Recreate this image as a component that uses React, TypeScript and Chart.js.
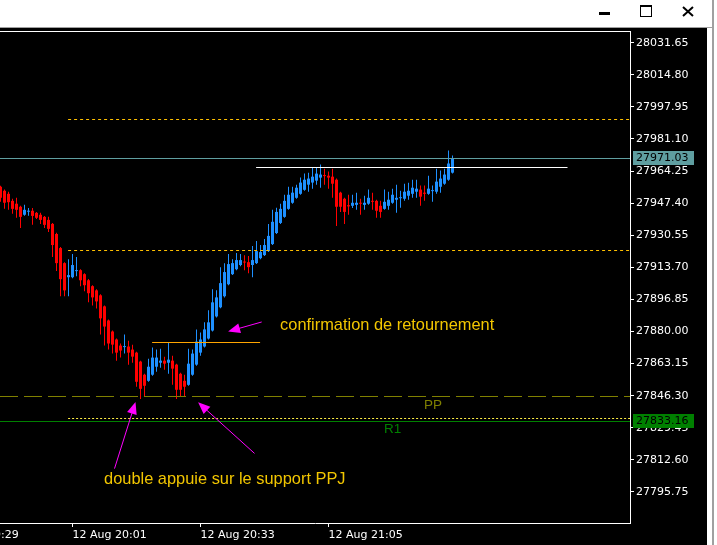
import React, { useEffect, useRef } from "react";
import { Chart, registerables } from "chart.js";

Chart.register(...registerables);

// ---------- DATA (1-minute candles, first one = 12 Aug 19:43) ----------
const opens = [
  27956.0, 27953.9, 27952.3, 27948.6, 27947.1, 27945.5, 27941.3, 27942.9, 27943.4, 27942.3,
  27941.3, 27940.2, 27938.6, 27936.5, 27931.2, 27923.8, 27915.9, 27908.5, 27908.5, 27911.7,
  27912.2, 27910.1, 27906.9, 27903.8, 27901.6, 27899.0, 27893.2, 27885.8, 27880.0, 27875.8,
  27872.6, 27871.8, 27872.1, 27870.5, 27868.9, 27864.2, 27857.3, 27854.1, 27857.3, 27861.5,
  27863.6, 27864.7, 27863.6, 27864.7, 27862.6, 27857.8, 27854.1, 27852.0, 27857.3, 27862.6,
  27868.9, 27872.1, 27876.3, 27880.5, 27887.9, 27892.7, 27898.5, 27904.8, 27910.1, 27912.7,
  27914.9, 27916.7, 27916.4, 27914.9, 27915.9, 27918.5, 27920.1, 27922.2, 27925.9, 27931.7,
  27937.0, 27940.2, 27944.4, 27947.6, 27950.2, 27952.3, 27954.4, 27957.1, 27958.2, 27959.2,
  27960.8, 27962.1, 27961.8, 27961.3, 27959.7, 27952.9, 27949.7, 27946.3, 27946.0, 27946.5,
  27947.6, 27946.5, 27947.1, 27948.6, 27948.6, 27946.0, 27944.4, 27946.0, 27947.6, 27949.2,
  27950.0, 27949.7, 27951.3, 27952.3, 27953.4, 27954.5, 27952.9, 27952.3, 27953.7, 27953.4,
  27956.0, 27957.6, 27959.7, 27963.4,
];
const highs = [
  27956.5, 27954.5, 27953.4, 27949.7, 27950.2, 27946.0, 27946.5, 27944.9, 27944.9, 27942.8,
  27942.3, 27940.7, 27940.2, 27937.0, 27931.8, 27924.4, 27916.4, 27918.0, 27920.7, 27919.1,
  27912.7, 27910.6, 27907.5, 27904.3, 27902.2, 27899.5, 27893.7, 27886.3, 27880.5, 27876.3,
  27873.7, 27878.4, 27875.2, 27873.1, 27869.4, 27864.7, 27857.8, 27865.7, 27871.6, 27870.5,
  27871.0, 27866.8, 27874.2, 27867.3, 27863.1, 27858.4, 27857.3, 27871.0, 27870.5, 27881.1,
  27879.5, 27884.8, 27891.1, 27902.2, 27901.7, 27913.8, 27915.9, 27920.7, 27918.0, 27921.2,
  27920.7, 27920.1, 27919.6, 27924.9, 27927.5, 27925.4, 27928.6, 27936.5, 27943.9, 27945.0,
  27947.1, 27951.8, 27956.0, 27956.0, 27957.1, 27960.8, 27962.9, 27963.4, 27966.1, 27966.1,
  27967.7, 27965.5, 27964.0, 27965.5, 27960.3, 27953.4, 27950.2, 27951.8, 27951.8, 27952.9,
  27949.7, 27951.3, 27954.5, 27952.9, 27949.2, 27948.6, 27954.5, 27953.4, 27955.0, 27957.1,
  27953.9, 27957.6, 27958.1, 27959.7, 27959.7, 27956.6, 27956.6, 27961.8, 27956.6, 27965.5,
  27964.5, 27965.5, 27975.0, 27972.4,
];
const lows = [
  27948.1, 27944.4, 27943.9, 27941.8, 27939.7, 27934.4, 27940.8, 27940.8, 27936.0, 27939.1,
  27936.5, 27934.4, 27932.3, 27919.1, 27911.7, 27898.5, 27898.5, 27898.5, 27908.0, 27909.0,
  27903.8, 27901.1, 27895.3, 27893.7, 27892.1, 27878.4, 27872.6, 27870.5, 27868.4, 27864.7,
  27866.3, 27868.4, 27862.6, 27863.6, 27851.0, 27844.6, 27845.7, 27853.6, 27856.8, 27858.9,
  27861.0, 27859.9, 27857.8, 27852.0, 27844.6, 27845.7, 27845.7, 27851.5, 27856.8, 27862.0,
  27867.3, 27871.6, 27875.8, 27880.0, 27887.4, 27892.2, 27897.9, 27904.3, 27909.6, 27912.2,
  27914.3, 27912.2, 27910.6, 27908.5, 27915.4, 27918.0, 27919.6, 27921.7, 27925.4, 27931.2,
  27936.5, 27939.7, 27943.9, 27947.1, 27949.7, 27951.8, 27953.9, 27953.4, 27955.0, 27957.1,
  27955.5, 27957.1, 27955.0, 27950.2, 27935.4, 27942.8, 27936.5, 27941.3, 27944.9, 27943.9,
  27941.3, 27943.9, 27946.5, 27943.9, 27939.7, 27939.7, 27943.9, 27943.9, 27947.1, 27942.3,
  27945.0, 27948.6, 27949.2, 27950.2, 27950.2, 27946.0, 27948.6, 27951.8, 27948.1, 27952.3,
  27952.9, 27957.1, 27959.2, 27962.9,
];
const closes = [
  27950.2, 27947.6, 27947.9, 27944.4, 27943.9, 27940.2, 27943.9, 27943.2, 27940.7, 27939.7,
  27938.6, 27936.0, 27933.9, 27925.4, 27915.9, 27907.5, 27901.6, 27909.6, 27914.9, 27912.2,
  27906.9, 27904.3, 27900.1, 27897.9, 27895.8, 27886.9, 27882.6, 27873.7, 27873.1, 27868.9,
  27870.0, 27872.3, 27868.9, 27866.8, 27853.6, 27849.9, 27851.5, 27861.5, 27866.3, 27866.3,
  27864.7, 27863.1, 27865.2, 27860.5, 27849.4, 27849.4, 27851.0, 27863.1, 27868.4, 27874.7,
  27875.8, 27881.1, 27884.8, 27895.3, 27897.9, 27905.4, 27911.2, 27915.4, 27915.9, 27917.5,
  27917.5, 27916.2, 27913.8, 27917.5, 27922.2, 27921.7, 27925.4, 27930.2, 27937.6, 27942.8,
  27944.4, 27948.6, 27951.8, 27952.9, 27955.5, 27958.2, 27959.7, 27960.3, 27961.3, 27962.9,
  27962.4, 27961.6, 27960.8, 27957.6, 27945.5, 27945.5, 27942.8, 27945.7, 27947.6, 27947.6,
  27947.1, 27947.6, 27950.2, 27948.1, 27943.4, 27942.8, 27948.1, 27949.2, 27951.8, 27950.2,
  27950.5, 27953.4, 27953.9, 27955.5, 27955.0, 27950.8, 27952.3, 27955.0, 27954.2, 27958.7,
  27960.3, 27962.4, 27968.2, 27971.03,
];

// Price-axis tick labels
const yTickValues = [
  27795.75, 27812.6, 27829.45, 27846.3, 27863.15, 27880.0, 27896.85, 27913.7,
  27930.55, 27947.4, 27964.25, 27981.1, 27997.95, 28014.8, 28031.65,
];
// Time-axis labels (candle index relative to the first candle)
const xTickIndex = [-14, 18, 50, 82];
const xTickLabels = ["12 Aug 19:29", "12 Aug 20:01", "12 Aug 20:33", "12 Aug 21:05"];

// Levels
const bidPrice = 27971.03;
const r1Price = 27833.16;
const ppPrice = 27846.3;
const upperDashPrice = 27991.6;
const midDashPrice = 27922.8;
const dottedPrice = 27834.8;
const topLinePrice = 27966.2;
const neckLinePrice = 27874.3;

// Annotations (candle index, price)
const confirmText = { text: "confirmation de retournement", idx: 69.9, price: 27883.0 };
const supportText = { text: "double appuie sur le support PPJ", idx: 25.9, price: 27802.2 };
const ppLabel = { text: "PP", idx: 105.9, price: 27841.3 };
const r1Label = { text: "R1", idx: 95.9, price: 27828.9 };
const arrows = [
  { fromIdx: 28.5, fromPrice: 27808.0, toIdx: 33.75, toPrice: 27843.0 },
  { fromIdx: 63.5, fromPrice: 27816.0, toIdx: 49.4, toPrice: 27842.8 },
  { fromIdx: 65.3, fromPrice: 27885.0, toIdx: 56.9, toPrice: 27880.0 },
];

// ---------- STYLE ----------
const RED = "#ff0000";
const BLUE = "#1e90ff";
const AXIS_FONT = { family: "'DejaVu Sans', sans-serif", size: 11 };
const X_MIN = -0.125;
const X_MAX = 157.375;
const Y_MIN = 27779.44;
const Y_MAX = 28037.79;

const overlayPlugin = {
  id: "overlay",
  afterDatasetsDraw(chart: any) {
    const { ctx, chartArea: a, scales } = chart;
    const x = scales.x;
    const y = scales.y;
    ctx.save();
    ctx.beginPath();
    ctx.rect(a.left, a.top, a.right - a.left, a.bottom - a.top);
    ctx.clip();

    const hline = (price: number, from: number | null, to: number | null, color: string, dash: number[]) => {
      const py = Math.round(y.getPixelForValue(price)) + 0.5;
      const x0 = from == null ? a.left : x.getPixelForValue(from);
      const x1 = to == null ? a.right : x.getPixelForValue(to);
      ctx.strokeStyle = color;
      ctx.lineWidth = 1;
      ctx.setLineDash(dash);
      ctx.beginPath();
      ctx.moveTo(x0, py);
      ctx.lineTo(x1, py);
      ctx.stroke();
    };

    hline(bidPrice, null, null, "#5f9ea0", []);
    hline(upperDashPrice, 16.9, null, "#ffc000", [3, 3]);
    hline(midDashPrice, 16.9, null, "#ffc000", [3, 3]);
    hline(topLinePrice, 63.9, 141.75, "#ffffff", []);
    hline(neckLinePrice, 37.9, 64.9, "#ffa500", []);
    hline(ppPrice, null, null, "#808000", [18, 6]);
    hline(dottedPrice, 16.9, null, "#ffee44", [2, 2]);
    hline(r1Price, null, null, "#008000", []);
    ctx.setLineDash([]);

    // arrows
    ctx.strokeStyle = "#ff00ff";
    ctx.fillStyle = "#ff00ff";
    ctx.lineWidth = 1;
    for (const ar of arrows) {
      const x0 = x.getPixelForValue(ar.fromIdx);
      const y0 = y.getPixelForValue(ar.fromPrice);
      const x1 = x.getPixelForValue(ar.toIdx);
      const y1 = y.getPixelForValue(ar.toPrice);
      const len = Math.hypot(x1 - x0, y1 - y0);
      const ux = (x1 - x0) / len;
      const uy = (y1 - y0) / len;
      const hl = 12;
      const hw = 5;
      ctx.beginPath();
      ctx.moveTo(x0, y0);
      ctx.lineTo(x1 - ux * hl * 0.5, y1 - uy * hl * 0.5);
      ctx.stroke();
      ctx.beginPath();
      ctx.moveTo(x1, y1);
      ctx.lineTo(x1 - ux * hl - uy * hw, y1 - uy * hl + ux * hw);
      ctx.lineTo(x1 - ux * hl + uy * hw, y1 - uy * hl - ux * hw);
      ctx.closePath();
      ctx.fill();
    }

    // texts
    ctx.textBaseline = "middle";
    ctx.textAlign = "left";
    const txt = (t: { text: string; idx: number; price: number }, color: string, size: number) => {
      ctx.fillStyle = color;
      ctx.font = `${size}px 'Liberation Sans', Arial, sans-serif`;
      ctx.fillText(t.text, x.getPixelForValue(t.idx), y.getPixelForValue(t.price));
    };
    txt(confirmText, "#f2c600", 16.4);
    txt(supportText, "#f2c600", 16.4);
    txt(ppLabel, "#808000", 13.5);
    txt(r1Label, "#008000", 13.5);
    ctx.restore();
  },
  afterDraw(chart: any) {
    const { ctx, chartArea: a, scales } = chart;
    const x = scales.x;
    const y = scales.y;
    ctx.save();
    // top frame line
    ctx.fillStyle = "#ffffff";
    ctx.fillRect(0, a.top, a.right + 1, 1);
    // time labels
    ctx.font = "11px 'DejaVu Sans', sans-serif";
    ctx.textBaseline = "middle";
    ctx.textAlign = "left";
    ctx.fillStyle = "#ffffff";
    xTickIndex.forEach((v, i) => {
      ctx.fillText(xTickLabels[i], x.getPixelForValue(v), a.bottom + 12);
    });
    // price boxes
    const box = (price: number, bg: string) => {
      const py = Math.round(y.getPixelForValue(price));
      ctx.fillStyle = bg;
      ctx.fillRect(a.right + 3, py - 7, 61, 14);
      ctx.fillStyle = "#000000";
      ctx.fillText(price.toFixed(2), a.right + 6, py + 0.5);
    };
    box(bidPrice, "#5f9ea0");
    box(r1Price, "#008000");
    ctx.restore();
  },
};

function CandleChart() {
  const ref = useRef<HTMLCanvasElement | null>(null);
  useEffect(() => {
    if (!ref.current) return;
    const colors = opens.map((o, i) => (closes[i] >= o ? BLUE : RED));
    const chart = new Chart(ref.current, {
      type: "bar",
      data: {
        datasets: [
          {
            label: "wick",
            data: lows.map((l, i) => ({ x: i, y: [l, highs[i]] })) as any,
            backgroundColor: colors,
            barThickness: 1,
            grouped: false,
            borderWidth: 0,
            inflateAmount: 0,
            order: 2,
          } as any,
          {
            label: "body",
            data: opens.map((o, i) => ({ x: i, y: [o, closes[i]] })) as any,
            backgroundColor: colors,
            barThickness: 3,
            grouped: false,
            minBarLength: 1,
            borderWidth: 0,
            inflateAmount: 0,
            order: 1,
          } as any,
        ],
      },
      options: {
        animation: false,
        responsive: false,
        devicePixelRatio: 1,
        layout: { padding: { top: 3, left: 0, right: 0, bottom: 0 } },
        plugins: { legend: { display: false }, tooltip: { enabled: false } },
        events: [],
        scales: {
          x: {
            type: "linear",
            min: X_MIN,
            max: X_MAX,
            offset: false,
            bounds: "data",
            afterBuildTicks: (s: any) => {
              s.ticks = xTickIndex.filter((v) => v >= X_MIN && v <= X_MAX).map((v) => ({ value: v }));
            },
            ticks: { display: false, autoSkip: false },
            grid: { drawOnChartArea: false, drawTicks: true, tickLength: 4, color: "#ffffff", offset: false },
            border: { display: true, color: "#ffffff", width: 1 },
            afterFit: (s: any) => {
              s.height = 22;
              s.paddingLeft = 0;
              s.paddingRight = 0;
            },
          },
          y: {
            type: "linear",
            position: "right",
            min: Y_MIN,
            max: Y_MAX,
            bounds: "data",
            afterBuildTicks: (s: any) => {
              s.ticks = yTickValues.map((v) => ({ value: v }));
            },
            ticks: {
              color: "#ffffff",
              font: AXIS_FONT,
              padding: 2,
              autoSkip: false,
              callback: (v: any) => Number(v).toFixed(2),
            },
            grid: { drawOnChartArea: false, drawTicks: true, tickLength: 4, color: "#ffffff" },
            border: { display: true, color: "#ffffff", width: 1 },
            afterFit: (s: any) => {
              s.width = 77;
              s.paddingTop = 0;
              s.paddingBottom = 0;
            },
          },
        },
      } as any,
      plugins: [overlayPlugin],
    });
    return () => chart.destroy();
  }, []);
  return <canvas ref={ref} width={707} height={517} style={{ display: "block", width: 707, height: 517 }} />;
}

export default function App() {
  return (
    <div style={{ position: "fixed", left: 0, top: 0, width: 717, height: 545, background: "#ffffff", overflow: "hidden" }}>
      {/* title bar */}
      <div style={{ position: "absolute", left: 0, top: 27, width: 712, height: 1, background: "#a0a0a0" }} />
      <div style={{ position: "absolute", left: 599, top: 12, width: 11, height: 3, background: "#000" }} />
      <div style={{ position: "absolute", left: 640, top: 5, width: 10, height: 9, border: "1px solid #000", borderTopWidth: 2 }} />
      <svg style={{ position: "absolute", left: 682, top: 6, width: 12, height: 11 }} viewBox="0 0 12 11">
        <path d="M1 1 L11 10 M11 1 L1 10" stroke="#000" strokeWidth={2} />
      </svg>
      {/* right frame */}
      <div style={{ position: "absolute", left: 712, top: 0, width: 2, height: 545, background: "#a0a0a0" }} />
      {/* chart window */}
      <div style={{ position: "absolute", left: 0, top: 28, width: 707, height: 517, background: "#000000" }}>
        <CandleChart />
      </div>
    </div>
  );
}
